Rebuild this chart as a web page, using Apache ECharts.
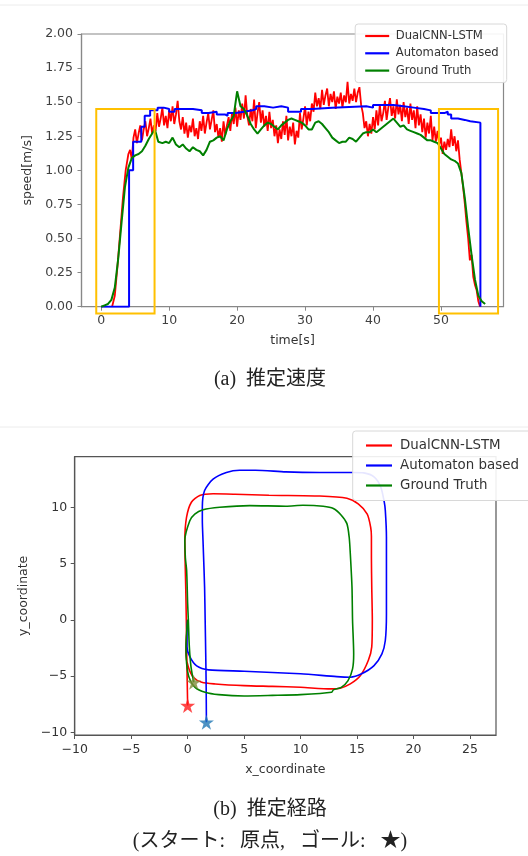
<!DOCTYPE html>
<html><head><meta charset="utf-8">
<script src="https://cdn.jsdelivr.net/npm/echarts@6/dist/echarts.min.js"></script>
<style>html,body{margin:0;padding:0;background:#fff}#c{width:528px;height:856px}</style>
</head><body><div id="c"></div>
<script>
// ---------- DATA: (a) speed ----------
const seriesNames = ['DualCNN-LSTM', 'Automaton based', 'Ground Truth'];
const timeTicks = [0, 10, 20, 30, 40, 50];
const speedDual = [
  [1.6,0.00],[2.0,0.08],[2.4,0.30],[2.8,0.55],[3.2,0.80],[3.6,1.00],[4.0,1.12],[4.25,1.15],[4.5,1.08],
  [4.75,1.24],[5.0,1.30],[5.25,1.20],[5.5,1.27],[5.75,1.33],[6.0,1.22],[6.25,1.30],[6.5,1.36],[6.75,1.25],
  [7.0,1.31],[7.25,1.38],[7.5,1.27],[7.75,1.33],[8.0,1.29],[8.25,1.42],[8.5,1.32],[8.75,1.38],[9.0,1.46],
  [9.25,1.33],[9.5,1.40],[9.75,1.31],[10.0,1.44],[10.25,1.36],[10.5,1.47],[10.75,1.34],[11.0,1.41],
  [11.25,1.51],[11.5,1.36],[11.75,1.30],[12.0,1.39],[12.25,1.27],[12.5,1.35],[12.75,1.24],[13.0,1.33],
  [13.25,1.28],[13.5,1.38],[13.75,1.25],[14.0,1.31],[14.25,1.23],[14.5,1.36],[14.75,1.29],[15.0,1.40],
  [15.25,1.27],[15.5,1.35],[15.75,1.42],[16.0,1.30],[16.25,1.37],[16.5,1.44],[16.75,1.28],[17.0,1.34],
  [17.25,1.24],[17.5,1.31],[17.75,1.21],[18.0,1.36],[18.25,1.26],[18.5,1.33],[18.75,1.39],[19.0,1.29],
  [19.25,1.42],[19.5,1.34],[19.75,1.46],[20.0,1.32],[20.25,1.44],[20.5,1.37],[20.75,1.49],[21.0,1.38],
  [21.25,1.55],[21.5,1.40],[21.75,1.33],[22.0,1.45],[22.25,1.36],[22.5,1.52],[22.75,1.31],[23.0,1.42],
  [23.25,1.50],[23.5,1.35],[23.75,1.44],[24.0,1.32],[24.25,1.40],[24.5,1.29],[24.75,1.43],[25.0,1.31],
  [25.25,1.37],[25.5,1.25],[25.75,1.33],[26.0,1.20],[26.25,1.30],[26.5,1.23],[26.75,1.36],[27.0,1.26],
  [27.25,1.40],[27.5,1.22],[27.75,1.32],[28.0,1.25],[28.25,1.35],[28.5,1.19],[28.75,1.29],[29.0,1.24],
  [29.25,1.42],[29.5,1.30],[29.75,1.38],[30.0,1.47],[30.25,1.33],[30.5,1.43],[30.75,1.36],[31.0,1.49],
  [31.25,1.43],[31.5,1.57],[31.75,1.47],[32.0,1.53],[32.25,1.45],[32.5,1.59],[32.75,1.48],[33.0,1.55],
  [33.25,1.60],[33.5,1.47],[33.75,1.56],[34.0,1.50],[34.25,1.58],[34.5,1.45],[34.75,1.54],[35.0,1.49],
  [35.25,1.57],[35.5,1.46],[35.75,1.55],[36.0,1.50],[36.25,1.65],[36.5,1.49],[36.75,1.56],[37.0,1.51],
  [37.25,1.60],[37.5,1.50],[37.75,1.57],[38.0,1.61],[38.25,1.48],[38.5,1.42],[38.75,1.31],[39.0,1.36],
  [39.25,1.25],[39.5,1.34],[39.75,1.27],[40.0,1.39],[40.25,1.30],[40.5,1.44],[40.75,1.33],[41.0,1.48],
  [41.25,1.36],[41.5,1.42],[41.75,1.51],[42.0,1.37],[42.25,1.46],[42.5,1.53],[42.75,1.40],[43.0,1.47],
  [43.25,1.38],[43.5,1.52],[43.75,1.41],[44.0,1.48],[44.25,1.36],[44.5,1.50],[44.75,1.39],[45.0,1.46],
  [45.25,1.34],[45.5,1.49],[45.75,1.37],[46.0,1.44],[46.25,1.31],[46.5,1.47],[46.75,1.33],[47.0,1.41],
  [47.25,1.28],[47.5,1.38],[47.75,1.24],[48.0,1.35],[48.25,1.27],[48.5,1.40],[48.75,1.22],[49.0,1.32],
  [49.25,1.21],[49.5,1.29],[49.75,1.19],[50.0,1.24],[50.25,1.12],[50.5,1.21],[50.75,1.15],[51.0,1.23],
  [51.25,1.17],[51.5,1.30],[51.75,1.18],[52.0,1.25],[52.25,1.14],[52.5,1.22],[52.75,1.08],[53.0,0.98],
  [53.25,0.88],[53.5,0.76],[53.75,0.62],[54.0,0.50],[54.25,0.34],[54.5,0.38],[54.75,0.22],[55.0,0.16],
  [55.25,0.12],[55.5,0.04],[55.75,0.00]
];
const speedAutomaton = [
  [0,0],[4.1,1.0],[4.7,1.21],[5.9,1.32],[6.4,1.40],[7.2,1.44],[8.3,1.46],[9.2,1.45],[10.0,1.43],
  [10.8,1.45],[12.3,1.45],[13.5,1.44],[14.8,1.42],[15.8,1.43],[17.0,1.41],[18.2,1.40],[18.6,1.42],
  [19.8,1.43],[21.0,1.44],[22.3,1.45],[22.8,1.47],[24.0,1.46],[25.3,1.47],[26.5,1.46],[27.5,1.43],
  [29.4,1.45],[31.0,1.46],[34.0,1.47],[39.0,1.46],[40.0,1.48],[43.0,1.47],[44.5,1.46],[46.0,1.45],
  [47.5,1.44],[48.5,1.42],[49.5,1.42],[50.5,1.43],[51.0,1.41],[51.5,1.38],[52.5,1.37],[53.5,1.36],
  [54.3,1.35],[55.8,0]
];
const speedTruth = [
  [0,0.0],[0.5,0.01],[1.0,0.02],[1.5,0.05],[2.0,0.14],[2.5,0.35],[3.0,0.62],[3.5,0.88],[4.0,1.02],
  [4.5,1.09],[5.0,1.11],[5.5,1.12],[6.0,1.14],[6.5,1.18],[7.0,1.23],[7.5,1.27],[7.9,1.30],[8.4,1.21],
  [9.0,1.20],[9.5,1.21],[10.0,1.20],[10.5,1.24],[11.0,1.19],[11.5,1.17],[12.0,1.19],[12.5,1.16],
  [13.0,1.14],[13.5,1.17],[14.0,1.15],[14.5,1.14],[15.0,1.11],[15.5,1.15],[16.0,1.21],[16.5,1.22],
  [17.0,1.24],[17.5,1.25],[18.0,1.22],[18.5,1.30],[19.0,1.36],[19.5,1.40],[20.0,1.58],[20.5,1.47],
  [21.0,1.45],[21.5,1.40],[22.0,1.34],[22.5,1.30],[23.0,1.27],[23.5,1.30],[24.0,1.33],[24.5,1.35],
  [25.0,1.34],[25.5,1.32],[26.0,1.30],[26.5,1.33],[27.0,1.35],[27.5,1.37],[28.0,1.38],[28.5,1.37],
  [29.0,1.36],[29.5,1.35],[30.0,1.33],[30.5,1.30],[31.0,1.30],[31.5,1.35],[32.0,1.36],[32.5,1.34],
  [33.0,1.31],[33.5,1.28],[34.0,1.24],[34.5,1.22],[35.0,1.20],[35.5,1.21],[36.0,1.21],[36.5,1.24],
  [37.0,1.23],[37.5,1.21],[38.0,1.24],[38.5,1.27],[39.0,1.28],[39.5,1.28],[40.0,1.30],[40.5,1.28],
  [41.0,1.30],[41.5,1.32],[42.0,1.34],[42.5,1.36],[43.0,1.38],[43.5,1.35],[44.0,1.32],[44.5,1.33],
  [45.0,1.30],[45.5,1.29],[46.0,1.28],[46.5,1.27],[47.0,1.26],[47.5,1.24],[48.0,1.22],[48.5,1.22],
  [49.0,1.21],[49.5,1.20],[50.0,1.16],[50.5,1.12],[51.0,1.10],[51.5,1.08],[52.0,1.07],[52.5,1.05],
  [53.0,0.98],[53.5,0.80],[54.0,0.58],[54.5,0.38],[55.0,0.20],[55.5,0.08],[56.0,0.04],[56.5,0.02]
];
// highlighted windows: [tStart, tEnd, vLow, vHigh]
const highlightBoxes = [[-0.73, 7.85, -0.05, 1.45], [49.7, 58.4, -0.05, 1.45]];

// ---------- DATA: (b) path ----------
const xTicks = [-10, -5, 0, 5, 10, 15, 20, 25];
const yTicks = [-10, -5, 0, 5, 10];
const pathDual = [
  [0,0],[-0.12,-1.5],[-0.15,-3.0],[0.06,-4.2],[0.5,-5.1],[1.25,-5.55],[2.45,-5.7],[5.0,-5.85],
  [7.5,-5.92],[10.0,-6.0],[12.7,-6.14],[13.5,-6.08],[14.4,-5.7],[15.3,-4.95],[16.0,-3.6],[16.3,-2.4],
  [16.35,0.0],[16.3,2.9],[16.27,5.5],[16.27,7.4],[16.2,8.25],[15.9,9.4],[15.1,10.3],[14.1,10.8],
  [11.7,11.0],[7.2,11.07],[4.2,11.16],[2.25,11.2],[1.07,11.05],[0.33,10.45],[-0.1,9.1],[-0.25,7.05],
  [-0.22,5.0],[-0.17,2.9],[-0.12,0],[-0.08,-3.0],[-0.04,-5.4],[0.0,-7.62]
];
const pathAutomaton = [
  [0,0],[-0.06,-1.2],[-0.06,-2.4],[0.2,-3.3],[0.8,-4.1],[1.85,-4.45],[5.0,-4.57],[10.0,-4.8],
  [13.2,-5.05],[14.4,-5.1],[15.4,-4.8],[16.5,-4.07],[17.2,-3.03],[17.5,-1.84],[17.6,0.5],[17.6,2.9],
  [17.6,7.36],[17.5,9.73],[17.4,10.5],[17.1,11.8],[16.5,12.7],[15.6,13.06],[14.6,13.1],[11.7,13.1],
  [8.7,13.15],[6.0,13.3],[4.6,13.3],[3.43,13.1],[2.25,12.5],[1.5,11.5],[1.3,10.0],[1.3,8.84],
  [1.36,7.05],[1.4,5.9],[1.5,2.9],[1.55,0],[1.6,-3.0],[1.64,-6.0],[1.66,-9.1]
];
const pathTruth = [
  [0,0],[-0.06,-0.65],[-0.15,-2.4],[-0.09,-3.9],[0.12,-5.1],[0.66,-6.0],[1.55,-6.44],[2.75,-6.65],
  [5.0,-6.77],[7.5,-6.72],[10.0,-6.65],[12.75,-6.44],[12.9,-6.23],[13.6,-6.0],[14.2,-5.4],[14.6,-4.36],
  [14.7,-3.03],[14.6,-0.06],[14.55,2.9],[14.4,5.9],[14.3,7.36],[14.1,8.55],[13.6,9.3],[12.9,9.9],
  [12.0,10.1],[10.2,10.18],[8.7,10.1],[5.5,10.15],[2.84,10.0],[1.36,9.78],[0.63,9.4],[0.19,8.8],
  [-0.25,7.05],[-0.2,5.5],[-0.09,4.4],[0.0,1.42],[0.06,0],[0.15,-2.4],[0.3,-4.2],[0.54,-5.55]
];
// goals (★): DualCNN-LSTM, Automaton based, Ground Truth
const goalPoints = [[0.0,-7.62],[1.66,-9.1],[0.54,-5.55]];

// ---------- STYLE ----------
const lineColors = ['#ff0000', '#0000ff', '#008000'];
const goalColors = ['#ff1a1a', '#1f77b4', '#7f8c3a'];
const STAR = 'path://M50,0 L61.2,34.5 L97.6,34.5 L68.2,55.9 L79.4,90.5 L50,69.1 L20.6,90.5 L31.8,55.9 L2.4,34.5 L38.8,34.5 Z';
const FONT = 'DejaVu Sans';
const textCol = '#333';
const minus = v => (v < 0 ? '\u2212' + Math.abs(v) : String(v));

const chart = echarts.init(document.getElementById('c'), null, {renderer: 'canvas'});

const axisCommon = (col) => ({
  axisLine: {show: true, onZero: false, lineStyle: {color: col, width: 1.2}},
  splitLine: {show: false},
  nameLocation: 'middle',
  nameTextStyle: {fontFamily: FONT, fontSize: 12.5, color: textCol},
});

const option = {
  animation: false,
  backgroundColor: '#fff',
  grid: [
    {left: 81.5, top: 34, width: 422, height: 272.7, show: true, borderColor: '#888', borderWidth: 1.2, backgroundColor: 'transparent'},
    {left: 74.7, top: 456.7, width: 421.3, height: 278.3, show: true, borderColor: '#555', borderWidth: 1.2, backgroundColor: 'transparent'}
  ],
  xAxis: [
    Object.assign(axisCommon('#888'), {
      type: 'value', gridIndex: 0, min: -2.9, max: 59.2, name: 'time[s]', nameGap: 27.5,
      axisLabel: {customValues: timeTicks, fontFamily: FONT, fontSize: 12.5, color: '#404040', margin: 8},
      axisTick: {show: true, customValues: timeTicks, length: 4, lineStyle: {color: '#888'}}
    }),
    Object.assign(axisCommon('#555'), {
      type: 'value', gridIndex: 1, min: -10, max: 27.3, name: 'x_coordinate', nameGap: 28.5,
      axisLabel: {customValues: xTicks, formatter: minus, fontFamily: FONT, fontSize: 12.5, color: textCol, margin: 8},
      axisTick: {show: true, customValues: xTicks, length: 4, lineStyle: {color: '#555'}}
    })
  ],
  yAxis: [
    Object.assign(axisCommon('#888'), {
      type: 'value', gridIndex: 0, min: 0, max: 2, interval: 0.25, name: 'speed[m/s]', nameGap: 34,
      axisLabel: {formatter: v => v.toFixed(2), fontFamily: FONT, fontSize: 12.5, color: '#404040', margin: 8.5},
      axisTick: {show: true, length: 4, lineStyle: {color: '#888'}}
    }),
    Object.assign(axisCommon('#555'), {
      type: 'value', gridIndex: 1, min: -10.24, max: 14.5, name: 'y_coordinate', nameGap: 37,
      axisLabel: {customValues: yTicks, formatter: minus, fontFamily: FONT, fontSize: 12.5, color: textCol, margin: 7.5},
      axisTick: {show: true, customValues: yTicks, length: 4, lineStyle: {color: '#555'}}
    })
  ],
  legend: [
    {
      data: seriesNames, orient: 'vertical', left: 355.2, top: 24,
      icon: 'rect', itemWidth: 24, itemHeight: 2.2, itemGap: 3.3,
      padding: [5, 8, 5, 10],
      backgroundColor: 'rgba(255,255,255,0.9)', borderColor: '#d8d8d8', borderWidth: 1, borderRadius: 3,
      textStyle: {fontFamily: FONT, fontSize: 11.6, color: textCol, lineHeight: 14, padding: [0, 0, 0, 1.5]},
      selectedMode: false
    },
    {
      data: seriesNames, orient: 'vertical', left: 352.7, top: 431,
      icon: 'rect', itemWidth: 26, itemHeight: 2.2, itemGap: 4,
      padding: [6.5, 14, 7, 13.3],
      backgroundColor: 'rgba(255,255,255,0.9)', borderColor: '#d8d8d8', borderWidth: 1, borderRadius: 3,
      textStyle: {fontFamily: FONT, fontSize: 13.4, color: textCol, lineHeight: 16, padding: [0, 0, 0, 3]},
      selectedMode: false
    }
  ],
  series: [
    {name: seriesNames[0], type: 'line', xAxisIndex: 0, yAxisIndex: 0, data: speedDual, symbol: 'none',
     lineStyle: {color: lineColors[0], width: 1.8}, itemStyle: {color: lineColors[0]}},
    {name: seriesNames[1], type: 'line', xAxisIndex: 0, yAxisIndex: 0, data: speedAutomaton, symbol: 'none', step: 'end',
     lineStyle: {color: lineColors[1], width: 2}, itemStyle: {color: lineColors[1]}},
    {name: seriesNames[2], type: 'line', xAxisIndex: 0, yAxisIndex: 0, data: speedTruth, symbol: 'none',
     lineStyle: {color: lineColors[2], width: 2}, itemStyle: {color: lineColors[2]}},
    {name: 'highlight', type: 'custom', xAxisIndex: 0, yAxisIndex: 0, clip: false, silent: true, z: 5,
     data: highlightBoxes, encode: {x: [0, 1], y: [2, 3]},
     renderItem: (params, api) => {
       const p0 = api.coord([api.value(0), api.value(3)]);
       const p1 = api.coord([api.value(1), api.value(2)]);
       return {type: 'rect', shape: {x: p0[0], y: p0[1], width: p1[0] - p0[0], height: p1[1] - p0[1]},
               style: {fill: 'none', stroke: '#ffc000', lineWidth: 2}};
     }},
    {name: seriesNames[0], type: 'line', xAxisIndex: 1, yAxisIndex: 1, data: pathDual, symbol: 'none', smooth: 0.25,
     lineStyle: {color: lineColors[0], width: 1.6}, itemStyle: {color: lineColors[0]}},
    {name: seriesNames[1], type: 'line', xAxisIndex: 1, yAxisIndex: 1, data: pathAutomaton, symbol: 'none', smooth: 0.25,
     lineStyle: {color: lineColors[1], width: 1.6}, itemStyle: {color: lineColors[1]}},
    {name: seriesNames[2], type: 'line', xAxisIndex: 1, yAxisIndex: 1, data: pathTruth, symbol: 'none', smooth: 0.25,
     lineStyle: {color: lineColors[2], width: 1.6}, itemStyle: {color: lineColors[2]}},
    {name: 'goal', type: 'scatter', xAxisIndex: 1, yAxisIndex: 1, symbol: STAR, symbolSize: 15, z: 6,
     data: goalPoints.map((p, i) => ({value: p, itemStyle: {color: goalColors[i]}}))}
  ],
  graphic: [
    {type: 'line', shape: {x1: 0, y1: 5, x2: 528, y2: 5}, style: {stroke: '#ececec', lineWidth: 1}},
    {type: 'line', shape: {x1: 0, y1: 427, x2: 528, y2: 427}, style: {stroke: '#ececec', lineWidth: 1}},
    {type: 'text', x: 270, y: 380, style: {text: '(a)  推定速度', textAlign: 'center', textVerticalAlign: 'middle',
      font: '20px "Liberation Serif", "Noto Sans CJK JP"', fill: '#222'}},
    {type: 'text', x: 270, y: 810, style: {text: '(b)  推定経路', textAlign: 'center', textVerticalAlign: 'middle',
      font: '20px "Liberation Serif", "Noto Sans CJK JP"', fill: '#222'}},
    {type: 'text', x: 270, y: 841.7, style: {text: '(スタート:   原点,   ゴール:   ★)', textAlign: 'center', textVerticalAlign: 'middle',
      font: '20px "Liberation Serif", "Noto Sans CJK JP"', fill: '#222'}}
  ]
};
chart.setOption(option);
</script></body></html>
